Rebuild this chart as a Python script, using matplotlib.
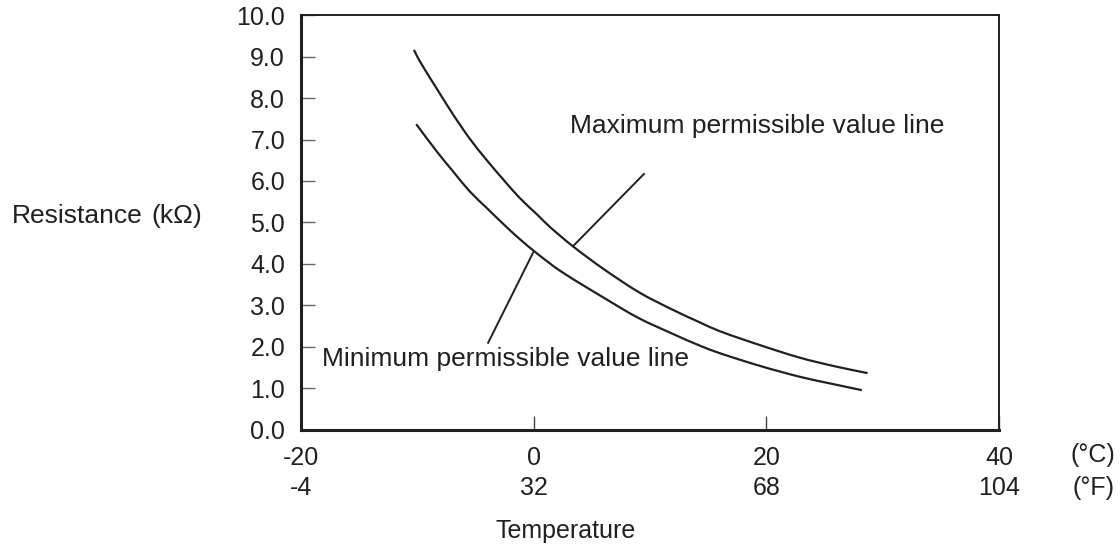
import matplotlib
matplotlib.use("Agg")
import matplotlib.pyplot as plt
from matplotlib.path import Path
from matplotlib.patches import PathPatch

plt.rcParams['font.family'] = ['Liberation Sans', 'DejaVu Sans']

# Resistance curves (kΩ) against temperature (°C)
max_temp = [-10.3, -9.8, -8.3, -6.9, -5.5, -4.0, -2.6, -1.2, 0.3, 1.4, 3.4,
            6.0, 9.1, 12.0, 14.3, 16.0, 19.5, 22.9, 25.8, 28.7]
max_res = [9.16, 8.89, 8.21, 7.59, 7.02, 6.49, 6.03, 5.59, 5.19, 4.89, 4.42,
           3.88, 3.31, 2.89, 2.59, 2.38, 2.04, 1.74, 1.54, 1.37]

min_temp = [-10.1, -8.3, -6.9, -5.5, -4.0, -2.6, -1.2, 0.3, 2.3, 6.3, 9.0,
            12.0, 14.3, 16.0, 19.5, 22.9, 25.5, 28.2]
min_res = [7.37, 6.70, 6.22, 5.75, 5.34, 4.96, 4.60, 4.25, 3.83, 3.14, 2.70,
           2.31, 2.03, 1.85, 1.54, 1.28, 1.12, 0.96]

celsius_ticks = [-20, 0, 20, 40]
celsius_labels = ['-20', '0', '20', '40']
fahrenheit_labels = ['-4', '32', '68', '104']
res_ticks = [0, 1, 2, 3, 4, 5, 6, 7, 8, 9, 10]
res_labels = [f'{v:.1f}' for v in res_ticks]

ink = '#231f20'


def smooth_path(xs, ys):
    """Cubic Hermite curve through the points (finite-difference slopes),
    expressed as Bezier segments."""
    n = len(xs)
    slopes = []
    for i in range(n):
        a = max(i - 1, 0)
        b = min(i + 1, n - 1)
        slopes.append((ys[b] - ys[a]) / (xs[b] - xs[a]))
    verts = [(xs[0], ys[0])]
    codes = [Path.MOVETO]
    for i in range(n - 1):
        h = xs[i + 1] - xs[i]
        c1 = (xs[i] + h / 3, ys[i] + slopes[i] * h / 3)
        c2 = (xs[i + 1] - h / 3, ys[i + 1] - slopes[i + 1] * h / 3)
        verts += [c1, c2, (xs[i + 1], ys[i + 1])]
        codes += [Path.CURVE4] * 3
    return Path(verts, codes)


fig = plt.figure(figsize=(11.2, 5.46), dpi=100)
ax = fig.add_axes([0.2688, 0.2125, 0.6232, 0.76])

for xs, ys in [(max_temp, max_res), (min_temp, min_res)]:
    ax.add_patch(PathPatch(smooth_path(xs, ys), facecolor='none',
                           edgecolor=ink, lw=1.6, capstyle='butt'))

ax.set_xlim(-20, 40)
ax.set_ylim(0, 10)

for side in ['top', 'right']:
    ax.spines[side].set_linewidth(1.4)
    ax.spines[side].set_color(ink)
for side in ['left', 'bottom']:
    ax.spines[side].set_linewidth(2.2)
    ax.spines[side].set_color(ink)

ax.set_yticks(res_ticks)
ax.set_yticklabels(res_labels)
ax.set_xticks(celsius_ticks)
ax.set_xticklabels(celsius_labels)
ax.tick_params(axis='y', direction='in', length=10, width=1.0, color='#666666',
               labelsize=18, pad=11.5, labelcolor=ink)
ax.tick_params(axis='x', direction='in', length=10, width=1.0, color='#444444',
               labelsize=18, pad=11.5, labelcolor=ink)

# Fahrenheit row under the Celsius tick labels
xtrans = ax.get_xaxis_transform()
for t, lab in zip(celsius_ticks, fahrenheit_labels):
    ax.text(t, -0.1398, lab, transform=xtrans, ha='center', va='center',
            fontsize=18, color=ink, clip_on=False)

fig.text(0.976, 1 - 455 / 546, '(°C)', ha='center', va='center', fontsize=18, color=ink)
fig.text(0.976, 1 - 488 / 546, '(°F)', ha='center', va='center', fontsize=18, color=ink)
fig.text(0.505, 1 - 531 / 546, 'Temperature', ha='center', va='center', fontsize=18, color=ink)

# Y-axis title: quantity and unit
fig.text(12 / 1120, 1 - 216 / 546, 'Resistance', ha='left', va='center', fontsize=19, color=ink)
fig.text(202 / 1120, 1 - 216 / 546, '(kΩ)', ha='right', va='center', fontsize=19, color=ink)

# Curve labels with leader lines
ax.text(3.12, 7.16, 'Maximum permissible value line', ha='left', va='baseline',
        fontsize=19, color=ink)
ax.plot([9.48, 3.38], [6.17, 4.43], color=ink, lw=1.4)
ax.text(-18.19, 1.54, 'Minimum permissible value line', ha='left', va='baseline',
        fontsize=19, color=ink)
ax.plot([-0.06, -3.92], [4.27, 2.10], color=ink, lw=1.4)

fig.savefig('out.png', dpi=100, facecolor='white')
